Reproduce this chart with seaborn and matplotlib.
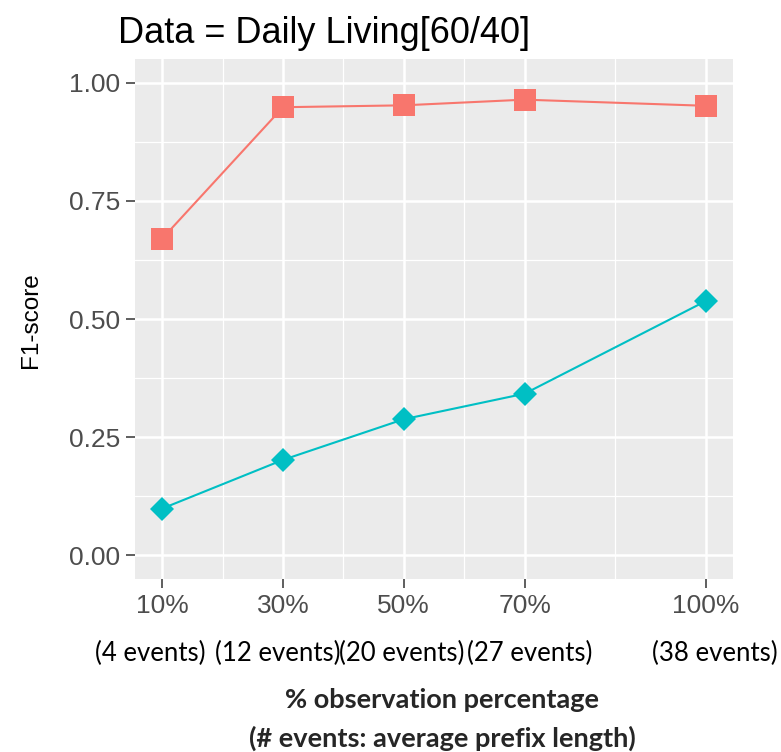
import matplotlib
matplotlib.use("Agg")
import matplotlib.pyplot as plt
from matplotlib.ticker import FixedLocator
import pandas as pd
import seaborn as sns

# observation percentage (x) and F1 scores
obs_pct = [10, 30, 50, 70, 100]
f1_upper = [0.670, 0.948, 0.952, 0.964, 0.951]
f1_lower = [0.099, 0.202, 0.288, 0.342, 0.538]
series_names = ["upper", "lower"]

x_tick_labels = ["10%", "30%", "50%", "70%", "100%"]
y_ticks = [0.0, 0.25, 0.5, 0.75, 1.0]
event_labels = ["(4 events)", "(12 events)", "(20 events)", "(27 events)", "(38 events)"]

df = pd.DataFrame({
    "obs": obs_pct * 2,
    "f1": f1_upper + f1_lower,
    "series": [series_names[0]] * len(obs_pct) + [series_names[1]] * len(obs_pct),
})

sns.set_theme(style="darkgrid", rc={
    "axes.facecolor": "#EBEBEB",
    "grid.color": "white",
    "grid.linewidth": 1.8,
})
plt.rcParams["font.family"] = ["Liberation Sans", "DejaVu Sans"]

fig = plt.figure(figsize=(7.81, 7.52), dpi=100)
ax = fig.add_axes([135 / 781, 1 - 579 / 752, 598 / 781, 520 / 752])

sns.lineplot(data=df, x="obs", y="f1", hue="series", style="series",
             palette={"upper": "#F8766D", "lower": "#00BFC4"},
             markers={"upper": "s", "lower": "D"}, dashes=False,
             linewidth=1.5, legend=False, ax=ax)
for line, ms in zip(ax.lines, [15.5, 12.3]):
    line.set_markersize(ms)
    line.set_markeredgewidth(0)

ax.set_xlim(5.5, 104.5)
ax.set_ylim(-0.05, 1.05)
ax.set_xticks(obs_pct)
ax.set_xticklabels(x_tick_labels)
ax.set_yticks(y_ticks)
ax.set_yticklabels([f"{v:.2f}" for v in y_ticks])
ax.xaxis.set_minor_locator(FixedLocator([20, 40, 60, 85]))
ax.yaxis.set_minor_locator(FixedLocator([0.125, 0.375, 0.625, 0.875]))
ax.grid(which="minor", color="white", linewidth=0.9)
ax.grid(which="major", color="white", linewidth=1.8)
ax.tick_params(which="major", length=6.5, width=1.1, color="#333333",
               labelsize=19, labelcolor="#4D4D4D", pad=4,
               bottom=True, left=True)
ax.tick_params(which="minor", length=0)
for s in ax.spines.values():
    s.set_visible(False)
ax.set_xlabel("")
ax.set_ylabel("")

fig.text(118 / 781, 1 - 43 / 752, "Data = Daily Living[60/40]",
         fontsize=26, color="black", ha="left", va="baseline")
fig.text(31 / 781, 1 - 320 / 752, "F1-score", fontsize=17.5, color="black",
         rotation=90, ha="center", va="center")

event_x = [150, 278, 402, 530, 715]
for lbl, px in zip(event_labels, event_x):
    fig.text(px / 781, 1 - 653 / 752, lbl, fontsize=18.5, family="Lato",
             ha="center", va="center", color="black")

fig.text(442 / 781, 1 - 700 / 752, "% observation percentage", fontsize=19.5,
         family="Lato", fontweight="bold", ha="center", va="center")
fig.text(442 / 781, 1 - 738 / 752, "(# events: average prefix length)", fontsize=19.5,
         family="Lato", fontweight="bold", ha="center", va="center")

fig.savefig("out.png", dpi=100)
